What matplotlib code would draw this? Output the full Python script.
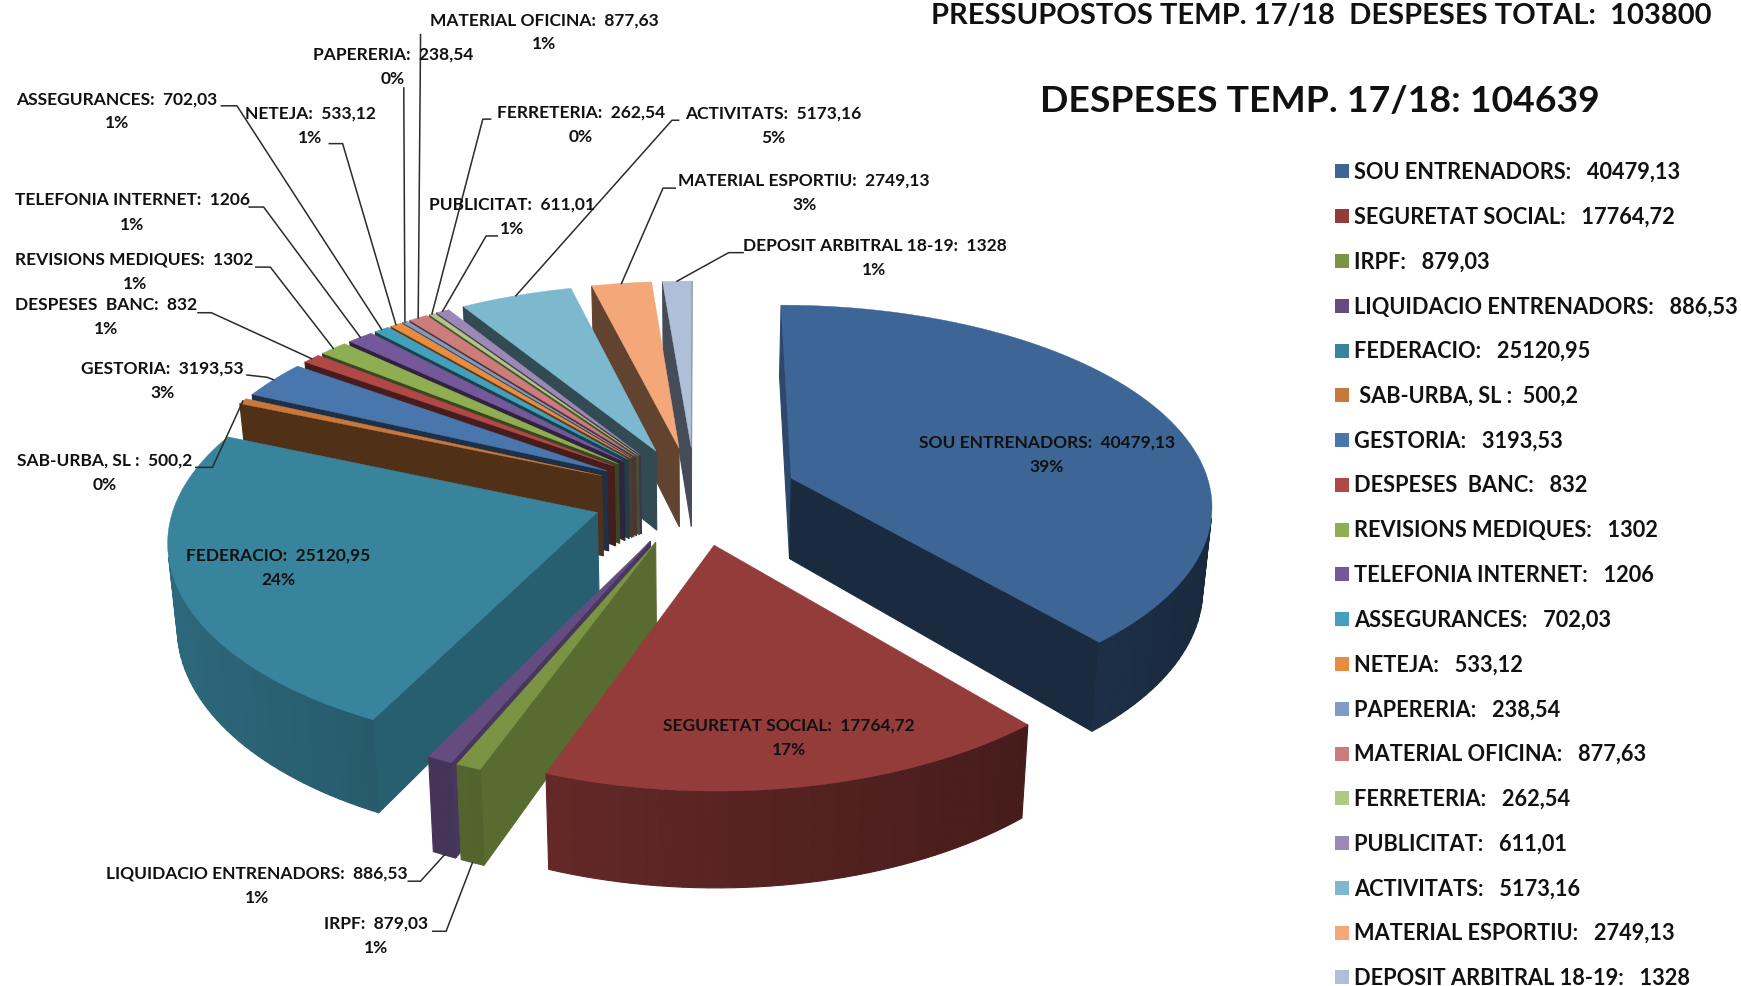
import numpy as np
import matplotlib
matplotlib.use('Agg')
import matplotlib.pyplot as plt
from matplotlib.patches import Polygon

plt.rcParams['font.family'] = ['Lato', 'DejaVu Sans']

# data
categories = ['SOU ENTRENADORS', 'SEGURETAT SOCIAL', 'IRPF', 'LIQUIDACIO ENTRENADORS', 'FEDERACIO',
              'SAB-URBA, SL ', 'GESTORIA', 'DESPESES  BANC', 'REVISIONS MEDIQUES', 'TELEFONIA INTERNET',
              'ASSEGURANCES', 'NETEJA', 'PAPERERIA', 'MATERIAL OFICINA', 'FERRETERIA', 'PUBLICITAT',
              'ACTIVITATS', 'MATERIAL ESPORTIU', 'DEPOSIT ARBITRAL 18-19']
values = [40479.13, 17764.72, 879.03, 886.53, 25120.95, 500.2, 3193.53, 832, 1302, 1206,
          702.03, 533.12, 238.54, 877.63, 262.54, 611.01, 5173.16, 2749.13, 1328]
colors = ['#3d6596', '#943c3a', '#7a9444', '#644c80', '#38849c', '#c8783a', '#4a76ae', '#b04846',
          '#8fae52', '#75589a', '#42a0bc', '#e88c40', '#7f9cc8', '#cc7c7a', '#b0c882', '#9c88b6',
          '#7cb8ce', '#f4a778', '#b0bfd9']
title_top = 'PRESSUPOSTOS TEMP. 17/18  DESPESES TOTAL:  103800'
title_main = 'DESPESES TEMP. 17/18: 104639'

# layout, in pixels of a 1565 wide view of the chart
label_pos = [(941, 409), (709, 663), (338, 841), (231, 796), (250, 510), (94, 425), (146, 342), (95, 285),
             (121, 244), (119, 191), (105, 100), (279, 113), (353, 60), (489, 29), (522, 112), (460, 195),
             (695, 113), (723, 173), (786, 232)]
# start of leader and its elbow, None = label sits on the slice
leaders = [None, None, ((389, 838), (401, 838)), ((367, 793), (378, 793)), None,
           ((176, 421), (191, 421)), ((222, 338), (240, 340)), ((178, 282), (190, 282)),
           ((230, 241), (243, 241)), ((224, 187), (237, 187)), ((199, 96), (213, 96)),
           ((296, 130), (308, 130)), ((363, 80), (363, 90)), ((378, 32), (378, 40)),
           ((441, 108), (434, 108)), ((447, 213), (437, 213)), ((610, 109), (604, 109)),
           ((607, 170), (596, 170)), ((668, 228), (655, 228))]

CX, CY = 625, 446
R = 378
SQUASH = 0.475
PERSP_X = 0.12
PERSP_Y = 0.13
DEPTH = 73
TAPER = 0.018
EXPLODE = 0.246


def project(x, y, z=0.0):
    fx = 1 / (1 + PERSP_X * y)
    fy = 1 / (1 + PERSP_Y * y)
    return CX + R * x * fx * (1 - TAPER * z), CY - R * SQUASH * y * fy + DEPTH * z * fy


def shade(col, factor):
    rgb = np.array(matplotlib.colors.to_rgb(col))
    return tuple(rgb * factor)


def facing(pts):
    # front faces come out with the same winding on screen
    p = np.array(pts)
    return np.sum(p[:, 0] * np.roll(p[:, 1], -1) - np.roll(p[:, 0], -1) * p[:, 1]) > 0


def face(ax, pts, col, lw=0.8):
    ax.add_patch(Polygon(pts, closed=True, facecolor=col, edgecolor=col, lw=lw))


fig = plt.figure(figsize=(17.41, 9.87), dpi=100)
ax = fig.add_axes([0, 0, 1, 1])
ax.set_xlim(0, 1565)
ax.set_ylim(887.2, 0)
ax.axis('off')

vals = np.array(values, dtype=float)
edges = np.concatenate([[0], np.cumsum(vals)]) / vals.sum() * 2 * np.pi
mids = (edges[:-1] + edges[1:]) / 2

for i in sorted(range(len(vals)), key=lambda j: -np.cos(mids[j])):
    a0, a1 = edges[i], edges[i + 1]
    ox, oy = EXPLODE * np.sin(mids[i]), EXPLODE * np.cos(mids[i])
    th = np.linspace(a0, a1, max(3, int((a1 - a0) * 40)))
    rx, ry = ox + np.sin(th), oy + np.cos(th)

    # radial walls
    start_f = 0.72 if a0 < np.radians(240) else 0.4
    wall = [project(ox, oy), project(ox, oy, 1), project(rx[0], ry[0], 1), project(rx[0], ry[0])]
    if facing(wall):
        face(ax, wall, shade(colors[i], start_f))
    wall = [project(rx[-1], ry[-1]), project(rx[-1], ry[-1], 1), project(ox, oy, 1), project(ox, oy)]
    if facing(wall):
        face(ax, wall, shade(colors[i], 0.42))

    # outer rim, shaded piece by piece
    for j in range(len(th) - 1):
        quad = [project(rx[j], ry[j]), project(rx[j], ry[j], 1), project(rx[j + 1], ry[j + 1], 1),
                project(rx[j + 1], ry[j + 1])]
        if facing(quad):
            t = (th[j] + th[j + 1]) / 2
            face(ax, quad, shade(colors[i], 0.6 - 0.2 * np.sin(t)))

    # top
    top = [project(ox, oy)] + [project(a, b) for a, b in zip(rx, ry)]
    face(ax, top, colors[i], lw=0.3)

# data labels
for i, name in enumerate(categories):
    pct = round(values[i] / vals.sum() * 100)
    txt = name + ':  ' + str(values[i]).replace('.', ',') + '\n' + str(pct) + '%'
    ax.text(label_pos[i][0], label_pos[i][1], txt, ha='center', va='center', fontsize=12.5,
            fontweight='bold', color='#111111', linespacing=1.65, zorder=5)
    if leaders[i] is not None:
        ox, oy = EXPLODE * np.sin(mids[i]), EXPLODE * np.cos(mids[i])
        z = 1.0 if np.cos(mids[i]) < 0 else 0.0
        end = project(ox + np.sin(mids[i]), oy + np.cos(mids[i]), z)
        xs = [leaders[i][0][0], leaders[i][1][0], end[0]]
        ys = [leaders[i][0][1], leaders[i][1][1], end[1]]
        ax.plot(xs, ys, color='#2b2b2b', lw=1.1, zorder=4)

# legend
for i, name in enumerate(categories):
    y = 155 + 40.25 * i
    ax.scatter([1206.5], [y], marker='s', s=115, color=colors[i], linewidths=0, zorder=5)
    pad = ' ' if name.startswith('SAB') else ''
    sep = ':  ' if name.startswith('SAB') else ':   '
    ax.text(1217, y, pad + name + sep + str(values[i]).replace('.', ','), ha='left', va='center',
            fontsize=15.7, fontweight='bold', color='#111111')

# titles
ax.text(1188, 14, title_top, ha='center', va='center', fontsize=21, fontweight='bold', color='#111111')
ax.text(1186, 91, title_main, ha='center', va='center', fontsize=26.9, fontweight='bold', color='#111111')

fig.savefig('out.png', dpi=100, facecolor='white')
